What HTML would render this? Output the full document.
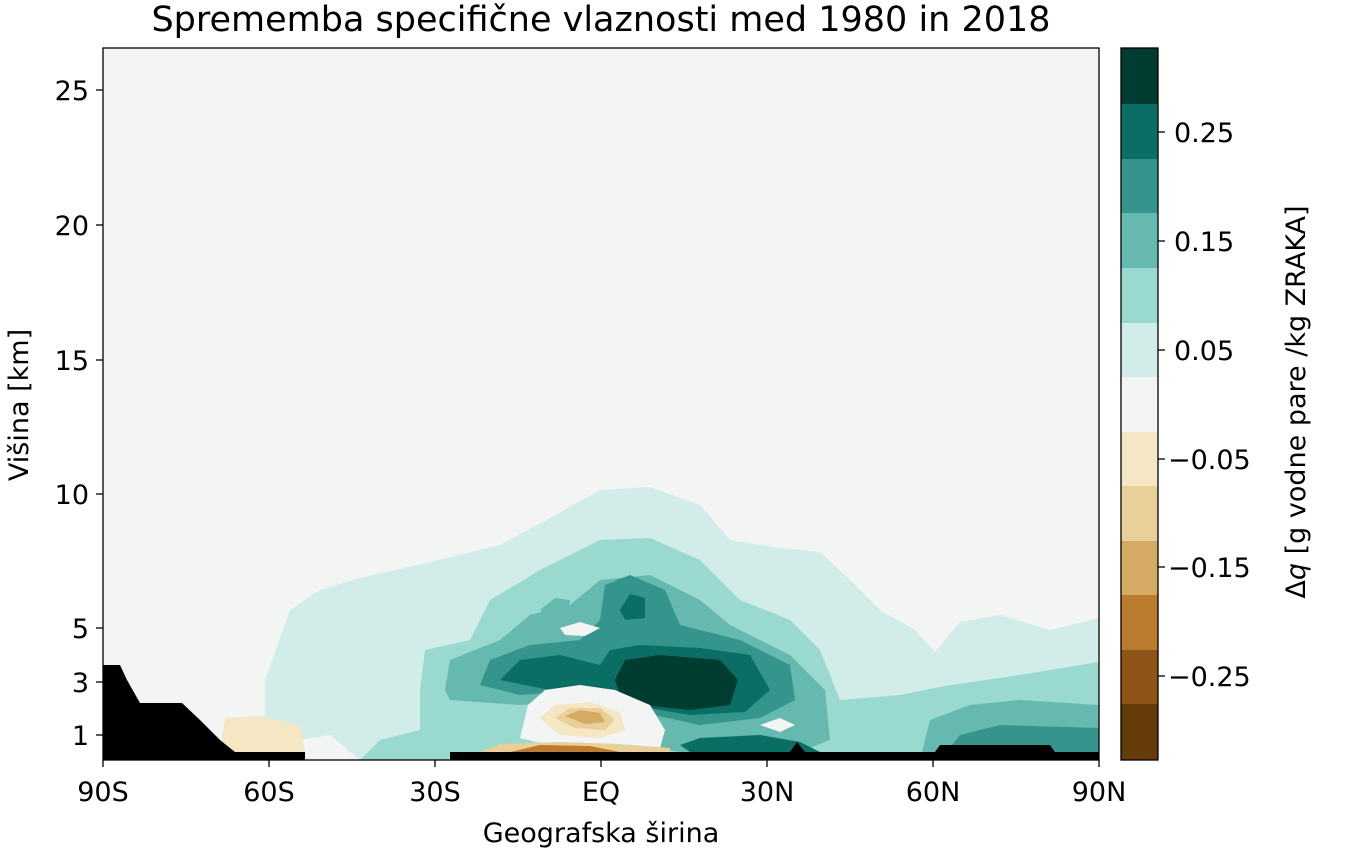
<!DOCTYPE html>
<html><head><style>
body{margin:0;background:#fff;}
svg text{font-family:"DejaVu Sans","Liberation Sans",sans-serif;fill:#000;}
</style></head><body>
<svg width="1346" height="855" xmlns="http://www.w3.org/2000/svg">
<text x="601" y="31" font-size="35" text-anchor="middle">Sprememba specifične vlaznosti med 1980 in 2018</text>
<defs><clipPath id="c"><rect x="103" y="48" width="996" height="712"/></clipPath></defs>
<g clip-path="url(#c)">
<rect x="103" y="48" width="996" height="712" fill="#f3f5f4"/>
<path d="M265,760 L265,680 L290,610 L320,590 L360,578 L430,562 L500,545 L550,518 L600,490 L650,487 L700,505 L730,540 L780,548 L820,552 L850,580 L880,610 L915,630 L935,652 L960,622 L1000,615 L1050,630 L1099,618 L1099,760 Z" fill="#d2ede9"/>
<path d="M290,760 L300,740 L330,735 L360,760 Z" fill="#f3f5f4"/>
<path d="M420,690 L425,650 L470,640 L490,600 L540,570 L600,540 L650,538 L700,560 L740,600 L790,620 L820,650 L840,700 L900,695 L950,685 L1000,678 L1050,670 L1099,662 L1099,760 L360,760 L380,740 L420,730 Z" fill="#9ad9cf"/>
<path d="M445,690 L450,660 L500,640 L530,615 L570,605 L600,580 L650,575 L700,600 L730,625 L790,655 L825,690 L830,740 L800,752 L680,752 L640,745 L600,700 L520,705 L450,700 Z" fill="#66b9ae"/>
<path d="M920,760 L930,720 L970,705 L1020,700 L1099,705 L1099,760 Z" fill="#66b9ae"/>
<path d="M480,685 L490,660 L530,645 L580,640 L600,620 L605,585 L630,575 L665,590 L680,625 L740,640 L790,665 L795,700 L760,718 L700,725 L640,712 L590,690 L520,695 Z" fill="#35958c"/>
<path d="M940,760 L960,735 L1000,725 L1099,728 L1099,760 Z" fill="#35958c"/>
<path d="M540,610 L555,598 L570,600 L568,615 L548,618 Z" fill="#66b9ae"/>
<path d="M500,680 L520,660 L560,655 L600,665 L610,650 L640,645 L700,648 L750,655 L770,690 L745,712 L690,715 L630,705 L600,690 L550,690 Z" fill="#0b6e64"/>
<path d="M620,610 L630,594 L645,598 L645,618 L625,620 Z" fill="#0b6e64"/>
<path d="M615,680 L625,660 L660,655 L720,660 L738,680 L730,705 L690,710 L640,705 L620,695 Z" fill="#003c30"/>
<path d="M560,628 L580,622 L600,628 L585,636 L565,635 Z" fill="#f3f5f4"/>
<path d="M528,705 L545,690 L580,685 L615,690 L650,705 L665,730 L660,748 L560,748 L520,738 Z" fill="#f3f5f4"/>
<path d="M540,718 L555,705 L590,702 L620,712 L625,730 L600,738 L560,735 Z" fill="#f5e6c4"/>
<path d="M555,718 L570,708 L600,708 L615,720 L605,730 L575,728 Z" fill="#e9d09a"/>
<path d="M565,716 L580,710 L600,713 L605,722 L585,724 Z" fill="#d5aa62"/>
<path d="M480,752 L500,744 L560,742 L620,744 L670,748 L670,755 L480,755 Z" fill="#e9d09a"/>
<path d="M510,752 L540,745 L590,746 L620,752 Z" fill="#bb7c30"/>
<path d="M680,745 L700,738 L760,735 L800,742 L820,752 L690,752 Z" fill="#0b6e64"/>
<path d="M760,725 L780,718 L795,725 L780,732 Z" fill="#f3f5f4"/>
<path d="M220,752 L225,718 L260,716 L300,725 L305,752 Z" fill="#f5e6c4"/>
<path d="M103,665 L120,665 L127,680 L140,703 L182,703 L200,720 L220,740 L235,752 L305,752 L305,760 L103,760 Z" fill="#000"/>
<path d="M450,760 L450,752 L790,752 L797,742 L805,752 L935,752 L940,745 L1050,745 L1055,752 L1099,752 L1099,760 Z" fill="#000"/>
</g>
<rect x="103" y="48" width="996" height="712" fill="none" stroke="#000" stroke-width="1.3"/>
<g stroke="#000" stroke-width="1.3">
<line x1="103" y1="760" x2="103" y2="767"/><line x1="269" y1="760" x2="269" y2="767"/><line x1="435" y1="760" x2="435" y2="767"/><line x1="601" y1="760" x2="601" y2="767"/><line x1="767" y1="760" x2="767" y2="767"/><line x1="933" y1="760" x2="933" y2="767"/><line x1="1099" y1="760" x2="1099" y2="767"/>
<line x1="96" y1="90" x2="103" y2="90"/><line x1="96" y1="225" x2="103" y2="225"/><line x1="96" y1="360" x2="103" y2="360"/><line x1="96" y1="494" x2="103" y2="494"/><line x1="96" y1="628" x2="103" y2="628"/><line x1="96" y1="682" x2="103" y2="682"/><line x1="96" y1="735" x2="103" y2="735"/>
</g>
<g font-size="27" text-anchor="middle">
<text x="103" y="801">90S</text><text x="269" y="801">60S</text><text x="435" y="801">30S</text><text x="601" y="801">EQ</text><text x="767" y="801">30N</text><text x="933" y="801">60N</text><text x="1099" y="801">90N</text>
</g>
<g font-size="27" text-anchor="end">
<text x="89" y="100">25</text><text x="89" y="235">20</text><text x="89" y="370">15</text><text x="89" y="504">10</text><text x="89" y="638">5</text><text x="89" y="692">3</text><text x="89" y="745">1</text>
</g>
<text x="601" y="842" font-size="27" text-anchor="middle">Geografska širina</text>
<text transform="translate(28,405) rotate(-90)" font-size="27" text-anchor="middle">Višina [km]</text>
<g>
<rect x="1121" y="48" width="37" height="56" fill="#003c30"/>
<rect x="1121" y="104" width="37" height="55" fill="#0b6e64"/>
<rect x="1121" y="159" width="37" height="54" fill="#35958c"/>
<rect x="1121" y="213" width="37" height="55" fill="#66b9ae"/>
<rect x="1121" y="268" width="37" height="55" fill="#9ad9cf"/>
<rect x="1121" y="323" width="37" height="54" fill="#d2ede9"/>
<rect x="1121" y="377" width="37" height="55" fill="#f3f5f4"/>
<rect x="1121" y="432" width="37" height="54" fill="#f5e6c4"/>
<rect x="1121" y="486" width="37" height="55" fill="#e9d09a"/>
<rect x="1121" y="541" width="37" height="54" fill="#d5aa62"/>
<rect x="1121" y="595" width="37" height="55" fill="#bb7c30"/>
<rect x="1121" y="650" width="37" height="54" fill="#8f5417"/>
<rect x="1121" y="704" width="37" height="56" fill="#663b0a"/>
<rect x="1121" y="48" width="37" height="712" fill="none" stroke="#000" stroke-width="1.3"/>
</g>
<g stroke="#000" stroke-width="1.3">
<line x1="1158" y1="132" x2="1165" y2="132"/><line x1="1158" y1="241" x2="1165" y2="241"/><line x1="1158" y1="350" x2="1165" y2="350"/><line x1="1158" y1="459" x2="1165" y2="459"/><line x1="1158" y1="567" x2="1165" y2="567"/><line x1="1158" y1="676" x2="1165" y2="676"/>
</g>
<g font-size="27">
<text x="1174" y="142">0.25</text><text x="1174" y="251">0.15</text><text x="1174" y="360">0.05</text><text x="1168" y="469">−0.05</text><text x="1168" y="577">−0.15</text><text x="1168" y="686">−0.25</text>
</g>
<text transform="translate(1305,402) rotate(-90)" font-size="27" text-anchor="middle">Δ<tspan font-style="italic">q</tspan> [g vodne pare /kg ZRAKA]</text>
</svg>
</body></html>
